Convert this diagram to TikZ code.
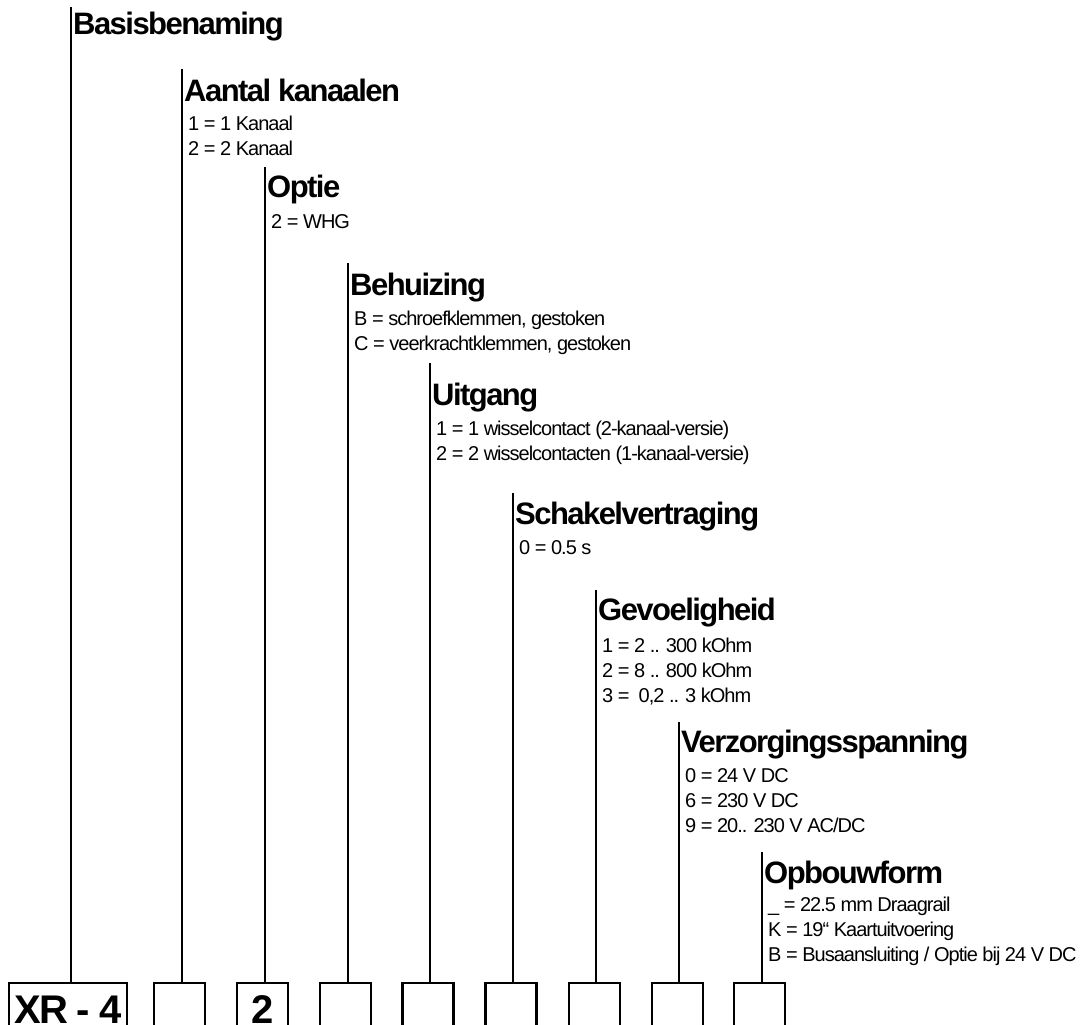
\documentclass[tikz,border=0pt]{standalone}
\usepackage{fontspec}
\setmainfont{Liberation Sans}[LetterSpace=-5]
\usetikzlibrary{positioning}

\begin{document}
\begin{tikzpicture}[x=1pt, y=-1pt,
  leader/.style={line width=1.5pt},
  title/.style={font=\bfseries\fontsize{31}{31}\selectfont, anchor=base west, inner sep=0pt},
  choice/.style={font=\fontsize{20}{25}\selectfont, anchor=base west, inner sep=0pt, align=left},
  slot/.style={draw, line width=2.2pt, minimum width=51pt, inner sep=0pt,
               text height=40pt, text depth=30pt, anchor=north,
               font=\bfseries\fontsize{40}{40}\selectfont},
]
  \useasboundingbox (0,0) rectangle (1087,1025);

  % order code slots along the bottom
  \node[slot, minimum width=118pt] (xr) at (68,982) {XR - 4};
  \node[slot] (s2) at (179.5,982) {};
  \node[slot] (s3) at (262.5,982) {2};
  \node[slot] (s4) at (345.5,982) {};
  \node[slot] (s5) at (428,982) {};
  \node[slot] (s6) at (511,982) {};
  \node[slot] (s7) at (594.5,982) {};
  \node[slot] (s8) at (677.5,982) {};
  \node[slot] (s9) at (759.5,982) {};

  % tops of the leader lines
  \coordinate (t1) at (71,7);
  \coordinate (t2) at (182,69);
  \coordinate (t3) at (265,167);
  \coordinate (t4) at (348,263);
  \coordinate (t5) at (430,363);
  \coordinate (t6) at (513,493);
  \coordinate (t7) at (596,590);
  \coordinate (t8) at (679,722);
  \coordinate (t9) at (762,852);

  \draw[leader] (t1) -- (t1 |- xr.north);
  \draw[leader] (t2) -- (t2 |- s2.north);
  \draw[leader] (t3) -- (t3 |- s3.north);
  \draw[leader] (t4) -- (t4 |- s4.north);
  \draw[leader] (t5) -- (t5 |- s5.north);
  \draw[leader] (t6) -- (t6 |- s6.north);
  \draw[leader] (t7) -- (t7 |- s7.north);
  \draw[leader] (t8) -- (t8 |- s8.north);
  \draw[leader] (t9) -- (t9 |- s9.north);

  % headings
  \node[title] (basis) at (73,35) {Basisbenaming};
  \node[title] (kanalen) at (184,102) {Aantal kanaalen};
  \node[title] (optie) at (267,197) {Optie};
  \node[title] (behuizing) at (350,295) {Behuizing};
  \node[title] (uitgang) at (432,405) {Uitgang};
  \node[title] (vertraging) at (515,524) {Schakelvertraging};
  \node[title] (gevoelig) at (598,620) {Gevoeligheid};
  \node[title] (spanning) at (681,752) {Verzorgingsspanning};
  \node[title] (opbouw) at (764,883) {Opbouwform};

  % options per heading (placed by the baseline of their last line)
  \node[choice] (o2) at (188,155) {1 = 1 Kanaal\\2 = 2 Kanaal};
  \node[choice] (o3) at (271,228) {2 = WHG};
  \node[choice] (o4) at (354,350) {B = schroefklemmen, gestoken\\C = veerkrachtklemmen, gestoken};
  \node[choice] (o5) at (436,460) {1 = 1 wisselcontact (2-kanaal-versie)\\2 = 2 wisselcontacten (1-kanaal-versie)};
  \node[choice] (o6) at (519,554) {0 = 0.5 s};
  \node[choice] (o7) at (602,702) {1 = 2 .. 300 kOhm\\2 = 8 .. 800 kOhm\\3 = \ 0,2 .. 3 kOhm};
  \node[choice] (o8) at (685,832) {0 = 24 V DC\\6 = 230 V DC\\9 = 20.. 230 V AC/DC};
  \node[choice] (o9) at (768,961) {\_ = 22.5 mm Draagrail\\K = 19“ Kaartuitvoering\\B = Busaansluiting / Optie bij 24 V DC};
\end{tikzpicture}
\end{document}
